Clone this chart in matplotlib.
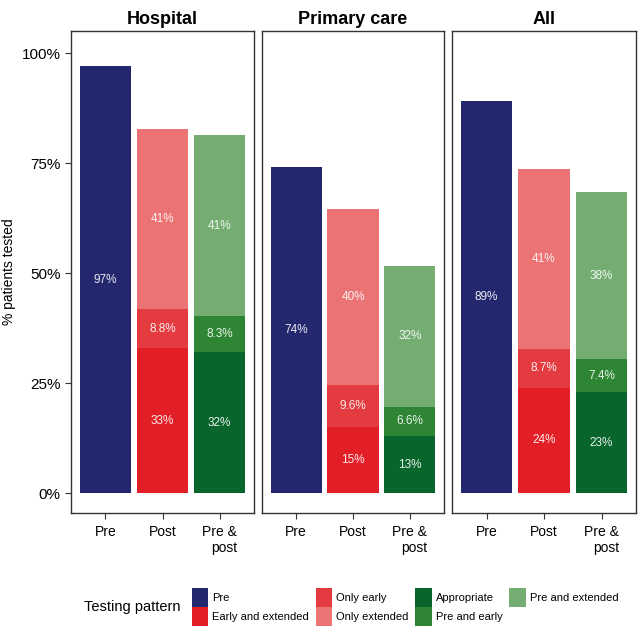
import numpy as np
import matplotlib
matplotlib.use('Agg')
import matplotlib.pyplot as plt
from matplotlib.patches import Patch

plt.rcParams['font.family'] = ['Liberation Sans', 'DejaVu Sans']

# ── Data ─────────────────────────────────────────────────────────────────────
panels = ['Hospital', 'Primary care', 'All']
groups = ['Pre', 'Post', 'Pre &\npost']

pre_vals = [97, 74, 89]
# Post: Early and extended, Only early, Only extended (bottom -> top)
post_early_ext = [33, 15, 24]
post_only_early = [8.8, 9.6, 8.7]
post_only_ext = [41, 40, 41]
# Pre & post: Appropriate, Pre and early, Pre and extended
pp_appropriate = [32, 13, 23]
pp_pre_early = [8.3, 6.6, 7.4]
pp_pre_ext = [41, 32, 38]

COLORS = {
    'Pre': '#22276E',
    'Early and extended': '#E21F26',
    'Only early': '#E33B3F',
    'Only extended': '#EC7373',
    'Appropriate': '#08652B',
    'Pre and early': '#2E8534',
    'Pre and extended': '#73AD72',
}

W, H = 640, 632
fig = plt.figure(figsize=(W / 100, H / 100), dpi=100)

panel_x = [(71, 254), (262, 444), (452, 636)]
top_px, bot_px = 31, 513


def fmt(v):
    return f'{v:.0f}%' if v >= 10 else f'{v:.1f}%'


for i, (name, (x0, x1)) in enumerate(zip(panels, panel_x)):
    ax = fig.add_axes([x0 / W, 1 - bot_px / H, (x1 - x0) / W, (bot_px - top_px) / H])
    stacks = [
        [('Pre', pre_vals[i])],
        [('Early and extended', post_early_ext[i]), ('Only early', post_only_early[i]),
         ('Only extended', post_only_ext[i])],
        [('Appropriate', pp_appropriate[i]), ('Pre and early', pp_pre_early[i]),
         ('Pre and extended', pp_pre_ext[i])],
    ]
    for xi, segs in enumerate(stacks, start=1):
        bottom = 0
        for key, v in segs:
            ax.bar(xi, v / 100, bottom=bottom / 100, width=0.9, color=COLORS[key], linewidth=0)
            ax.text(xi, (bottom + v / 2) / 100, fmt(v), ha='center', va='center',
                    color='white', alpha=0.9, fontsize=8.5)
            bottom += v
    ax.set_xlim(0.4, 3.6)
    ax.set_ylim(-0.045, 1.05)
    ax.set_xticks([1, 2, 3])
    ax.set_xticklabels(groups, fontsize=10, multialignment='right', linespacing=1.15)
    ax.set_yticks([0, 0.25, 0.5, 0.75, 1.0])
    ax.tick_params(axis='both', direction='out', length=4, width=0.8, color='#333333')
    ax.tick_params(axis='x', pad=5)
    if i == 0:
        ax.set_yticklabels(['0%', '25%', '50%', '75%', '100%'], fontsize=11)
        ax.set_ylabel('% patients tested', fontsize=10)
    else:
        ax.set_yticklabels([])
        ax.tick_params(axis='y', length=0)
    for s in ax.spines.values():
        s.set_color('#333333')
        s.set_linewidth(1.0)
    ax.set_title(name, fontsize=13, fontweight='bold', pad=5)

# ── Legend ───────────────────────────────────────────────────────────────────
order = ['Pre', 'Early and extended', 'Only early', 'Only extended',
         'Appropriate', 'Pre and early', 'Pre and extended']
handles = [Patch(facecolor=COLORS[k], edgecolor='none', label=k) for k in order]
fig.legend(handles=handles, ncol=4, loc='center left', bbox_to_anchor=(186 / W, 1 - 607 / H),
           frameon=False, fontsize=8, handlelength=1.5, handleheight=2.2,
           handletextpad=0.35, columnspacing=0.6, labelspacing=0.0, borderpad=0)
fig.text(180 / W, 1 - 607 / H, 'Testing pattern', ha='right', va='center', fontsize=10.5)

plt.savefig('out.png', dpi=100)
